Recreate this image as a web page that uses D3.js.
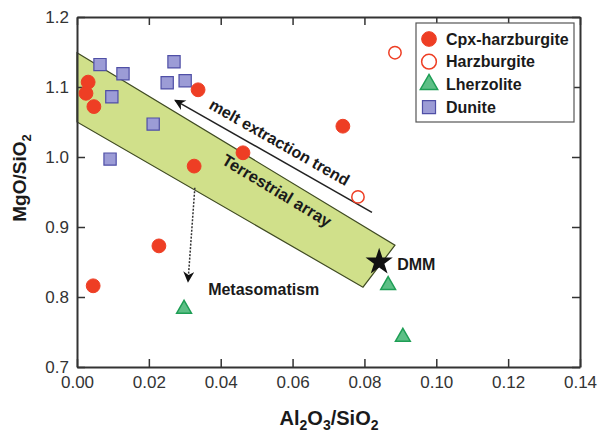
<!DOCTYPE html>
<html>
  <head>
    <meta charset="utf-8">
    <script src="https://cdn.jsdelivr.net/npm/d3@7"></script>
  </head>
  <body>
    <svg width="598" height="432"></svg>
    <style>
      html, body {
        margin: 0;
        padding: 0;
        background: #fff;
      }
      svg {
        display: block;
        font-family: Arial, 'Liberation Sans', sans-serif;
      }
      .tick text {
        font-size: 17px;
        fill: #333;
      }
      .bold {
        font-weight: bold;
        fill: #1a1a1a;
      }
    </style>
    <script>
      // values (Al2O3/SiO2, MgO/SiO2)
      const cpxHarzburgite = [
        [0.0031, 1.107], [0.0025, 1.091], [0.0047, 1.072], [0.0337, 1.096],
        [0.0462, 1.006], [0.0326, 0.987], [0.0740, 1.044], [0.0228, 0.873],
        [0.0045, 0.816]
      ];
      const harzburgite = [[0.0885, 1.149], [0.0782, 0.943]];
      const lherzolite = [[0.0298, 0.783], [0.0866, 0.817], [0.0907, 0.743]];
      const dunite = [
        [0.0064, 1.132], [0.0128, 1.119], [0.0097, 1.086], [0.0092, 0.997],
        [0.0212, 1.047], [0.0251, 1.106], [0.0270, 1.136], [0.0301, 1.109]
      ];
      const dmm = [0.0841, 0.850];
      const terrestrialArray = [[0, 1.149], [0.0885, 0.874], [0.0796, 0.814], [0, 1.05]];
      const meltTrend = [[0.0821, 0.921], [0.0273, 1.081]];
      const metasomatism = [[0.0328, 0.956], [0.0309, 0.822]];

      const xTicks = [0, 0.02, 0.04, 0.06, 0.08, 0.10, 0.12, 0.14];
      const yTicks = [0.7, 0.8, 0.9, 1.0, 1.1, 1.2];
      const legendLabels = ["Cpx-harzburgite", "Harzburgite", "Lherzolite", "Dunite"];

      const svg = d3.select("svg");
      const margin = { top: 17, right: 18, bottom: 65, left: 77 };
      const W = 598, H = 432;

      const x = d3.scaleLinear().domain([0, 0.14]).range([margin.left, W - margin.right]);
      const y = d3.scaleLinear().domain([0.7, 1.2]).range([H - margin.bottom, margin.top]);

      const red = "#ee3e24";
      const styles = {
        cpx: { type: d3.symbolCircle, size: 150, fill: red, stroke: red, sw: 1 },
        harz: { type: d3.symbolCircle, size: 120, fill: "#fff", stroke: red, sw: 1.5 },
        lherz: { type: d3.symbolTriangle, size: 95, fill: "#5dbf86", stroke: "#1e9e55", sw: 1.5 },
        dun: { type: d3.symbolSquare, size: 150, fill: "#9c9cd6", stroke: "#4f4fa6", sw: 1.2 }
      };

      // terrestrial array band
      svg.append("path")
        .datum(terrestrialArray)
        .attr("d", d3.line().x(d => x(d[0])).y(d => y(d[1])).curve(d3.curveLinearClosed))
        .attr("fill", "#d0e08a")
        .attr("stroke", "#3f4a22")
        .attr("stroke-width", 1.2);

      // arrow markers
      const defs = svg.append("defs");
      defs.append("marker")
        .attr("id", "head")
        .attr("viewBox", "0 0 10 10")
        .attr("refX", 9).attr("refY", 5)
        .attr("markerWidth", 12).attr("markerHeight", 11)
        .attr("markerUnits", "userSpaceOnUse")
        .attr("orient", "auto")
        .append("path").attr("d", "M0,0L10,5L0,10L3,5Z").attr("fill", "#111");

      svg.append("line")
        .attr("x1", x(meltTrend[0][0])).attr("y1", y(meltTrend[0][1]))
        .attr("x2", x(meltTrend[1][0])).attr("y2", y(meltTrend[1][1]))
        .attr("stroke", "#222").attr("stroke-width", 1.5)
        .attr("marker-end", "url(#head)");

      svg.append("line")
        .attr("x1", x(metasomatism[0][0])).attr("y1", y(metasomatism[0][1]))
        .attr("x2", x(metasomatism[1][0])).attr("y2", y(metasomatism[1][1]))
        .attr("stroke", "#333").attr("stroke-width", 1.5)
        .attr("stroke-dasharray", "2,1.5")
        .attr("marker-end", "url(#head)");

      // annotation text
      const angle = Math.atan2(y(meltTrend[1][1]) - y(meltTrend[0][1]), x(meltTrend[1][0]) - x(meltTrend[0][0])) * 180 / Math.PI + 180;
      svg.append("text").attr("class", "bold")
        .attr("transform", `translate(${x(0.0556)},${y(1.014)}) rotate(${angle})`)
        .attr("text-anchor", "middle")
        .style("font-size", "16px")
        .text("melt extraction trend");

      svg.append("text").attr("class", "bold")
        .attr("transform", `translate(${x(0.0548)},${y(0.945)}) rotate(${angle + 1.5})`)
        .attr("text-anchor", "middle")
        .style("font-size", "16.5px")
        .text("Terrestrial array");

      svg.append("text").attr("class", "bold")
        .attr("x", x(0.0365)).attr("y", y(0.803))
        .style("font-size", "16px")
        .text("Metasomatism");

      // axes (ticks point inward, frame on all sides)
      const fmtX = d3.format(".2f"), fmtY = d3.format(".1f");
      const gx = svg.append("g")
        .attr("transform", `translate(0,${H - margin.bottom})`)
        .call(d3.axisBottom(x).tickValues(xTicks).tickFormat(fmtX).tickSize(-8).tickSizeOuter(0).tickPadding(9));
      const gxt = svg.append("g")
        .attr("transform", `translate(0,${margin.top})`)
        .call(d3.axisTop(x).tickValues(xTicks).tickFormat("").tickSize(-8).tickSizeOuter(0));
      const gy = svg.append("g")
        .attr("transform", `translate(${margin.left},0)`)
        .call(d3.axisLeft(y).tickValues(yTicks).tickFormat(fmtY).tickSize(-8).tickSizeOuter(0).tickPadding(8));
      const gyr = svg.append("g")
        .attr("transform", `translate(${W - margin.right},0)`)
        .call(d3.axisRight(y).tickValues(yTicks).tickFormat("").tickSize(-8).tickSizeOuter(0));
      [gx, gxt, gy, gyr].forEach(g => {
        g.select(".domain").attr("stroke", "#333").attr("stroke-width", 2);
        g.selectAll(".tick line").attr("stroke", "#333").attr("stroke-width", 1.5);
      });

      // points
      const drawPts = (data, s) => {
        svg.append("g").selectAll("path")
          .data(data)
          .join("path")
          .attr("transform", d => `translate(${x(d[0])},${y(d[1])})`)
          .attr("d", d3.symbol().type(s.type).size(s.size))
          .attr("fill", s.fill)
          .attr("stroke", s.stroke)
          .attr("stroke-width", s.sw);
      };
      drawPts(harzburgite, styles.harz);
      drawPts(dunite, styles.dun);
      drawPts(cpxHarzburgite, styles.cpx);
      drawPts(lherzolite, styles.lherz);

      // DMM star
      svg.append("path")
        .attr("transform", `translate(${x(dmm[0])},${y(dmm[1])})`)
        .attr("d", d3.symbol().type(d3.symbolStar).size(230))
        .attr("fill", "#111");
      svg.append("text").attr("class", "bold")
        .attr("x", x(dmm[0]) + 18).attr("y", y(dmm[1]) + 8)
        .style("font-size", "16px")
        .text("DMM");

      // axis titles
      const xt = svg.append("text").attr("class", "bold")
        .attr("x", 329).attr("y", 425)
        .attr("text-anchor", "middle")
        .style("font-size", "20px");
      xt.append("tspan").text("Al");
      xt.append("tspan").attr("dy", 5).style("font-size", "14px").text("2");
      xt.append("tspan").attr("dy", -5).text("O");
      xt.append("tspan").attr("dy", 5).style("font-size", "14px").text("3");
      xt.append("tspan").attr("dy", -5).text("/SiO");
      xt.append("tspan").attr("dy", 5).style("font-size", "14px").text("2");

      const yt = svg.append("text").attr("class", "bold")
        .attr("transform", "translate(26,178) rotate(-90)")
        .attr("text-anchor", "middle")
        .style("font-size", "19px");
      yt.append("tspan").text("MgO/SiO");
      yt.append("tspan").attr("dy", 5).style("font-size", "13px").text("2");

      // legend
      const legend = svg.append("g").attr("transform", "translate(416,23)");
      legend.append("rect")
        .attr("width", 158).attr("height", 99)
        .attr("fill", "#fff").attr("stroke", "#555").attr("stroke-width", 1.2);
      const legendStyles = [styles.cpx, styles.harz, styles.lherz, styles.dun];
      const row = legend.selectAll("g.item")
        .data(legendLabels)
        .join("g")
        .attr("class", "item")
        .attr("transform", (d, i) => `translate(13,${16 + i * 22.7})`);
      row.append("path")
        .attr("d", (d, i) => d3.symbol().type(legendStyles[i].type).size(i === 2 ? 130 : 170)())
        .attr("fill", (d, i) => legendStyles[i].fill)
        .attr("stroke", (d, i) => legendStyles[i].stroke)
        .attr("stroke-width", (d, i) => legendStyles[i].sw);
      row.append("text").attr("class", "bold")
        .attr("x", 17).attr("dy", "0.36em")
        .style("font-size", "16px")
        .text(d => d);
    </script>
  </body>
</html>
